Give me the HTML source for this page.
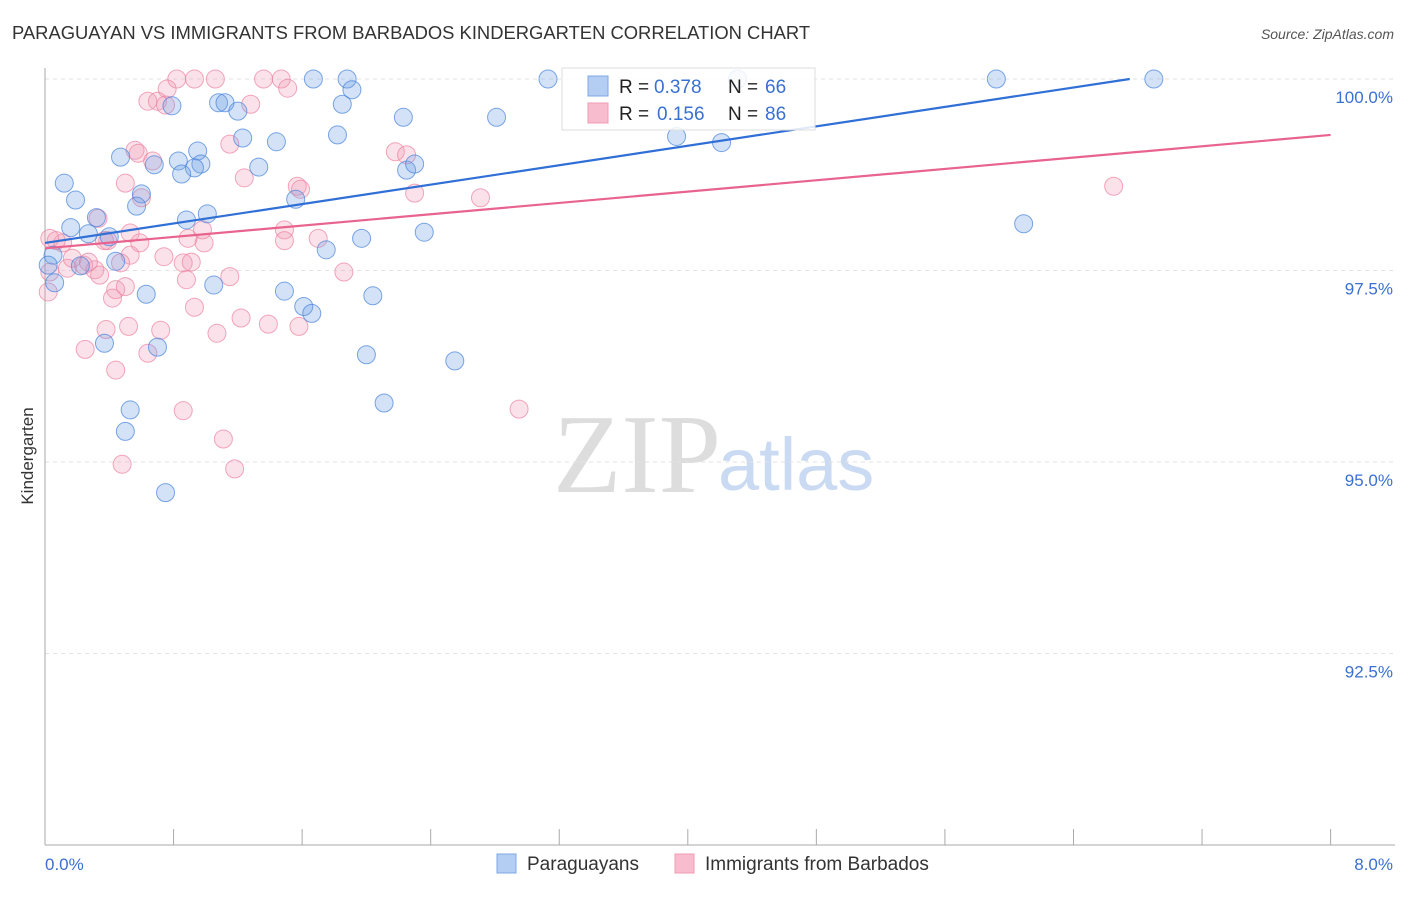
<!DOCTYPE html>
<html><head><meta charset="utf-8"><style>
body{margin:0;background:#fff;font-family:"Liberation Sans",sans-serif;}
</style></head><body>
<svg id="c" width="1406" height="892" xmlns="http://www.w3.org/2000/svg">
<text x="12" y="39" font-size="18.4" fill="#333">PARAGUAYAN VS IMMIGRANTS FROM BARBADOS KINDERGARTEN CORRELATION CHART</text>
<text x="1394" y="39" font-size="14" fill="#555" font-style="italic" text-anchor="end">Source: ZipAtlas.com</text>
<text x="553" y="492" font-size="112" fill="#ddd" font-family="Liberation Serif,serif">ZIP</text>
<text x="718" y="490" font-size="74" fill="#c9daf2">atlas</text>
<text transform="translate(33,456) rotate(-90)" font-size="17" fill="#333" text-anchor="middle">Kindergarten</text>
<g id="grid"></g><g id="pts"></g><g id="lines"></g>
<g>
<rect x="562" y="68" width="253" height="62" fill="#fff" fill-opacity="0.85" stroke="#ddd"/>
<rect x="588" y="76" width="20" height="20" fill="#b4cdf3" stroke="#7fa7e6"/>
<rect x="588" y="103" width="20" height="20" fill="#f7bccd" stroke="#ef9bb4"/>
<text x="619" y="93" font-size="19" fill="#222">R =</text>
<text x="654" y="93" font-size="19" fill="#3a70d0">0.378</text>
<text x="728" y="93" font-size="19" fill="#222">N =</text>
<text x="765" y="93" font-size="19" fill="#3a70d0">66</text>
<text x="619" y="120" font-size="19" fill="#222">R =</text>
<text x="657" y="120" font-size="19" fill="#3a70d0">0.156</text>
<text x="728" y="120" font-size="19" fill="#222">N =</text>
<text x="765" y="120" font-size="19" fill="#3a70d0">86</text>
</g>
<g>
<rect x="497" y="854" width="19" height="19" fill="#b4cdf3" stroke="#7fa7e6"/>
<text x="527" y="870" font-size="19" fill="#333">Paraguayans</text>
<rect x="675" y="854" width="19" height="19" fill="#f7bccd" stroke="#ef9bb4"/>
<text x="705" y="870" font-size="19" fill="#333">Immigrants from Barbados</text>
</g>
</svg>
<script>
const blueX=[1.67,1.88,3.13,5.92,6.90,4.31,1.91,1.85,0.79,1.08,1.12,1.20,2.23,2.81,1.23,1.44,1.82,0.95,0.47,0.68,0.83,0.97,0.93,0.85,1.33,2.25,2.30,0.12,0.60,0.19,0.57,1.56,1.01,0.32,0.16,0.88,6.09,0.27,0.40,1.97,2.36,1.75,0.44,0.22,0.06,0.63,1.05,1.49,1.61,1.66,2.04,0.37,0.70,2.00,2.55,0.53,2.11,0.50,0.75,3.93,4.21,0.05,0.02];
const blueY=[100,100,100,100,100,100,99.86,99.67,99.65,99.69,99.69,99.58,99.50,99.50,99.23,99.18,99.27,99.06,98.98,98.88,98.93,98.89,98.84,98.76,98.85,98.81,98.89,98.64,98.50,98.42,98.34,98.43,98.24,98.19,98.06,98.16,98.11,97.98,97.94,97.92,98.00,97.77,97.62,97.56,97.34,97.19,97.31,97.23,97.03,96.94,97.17,96.55,96.50,96.40,96.32,95.68,95.77,95.40,94.60,99.25,99.17,97.70,97.57];
const pinkX=[0.82,0.93,1.06,1.36,1.47,0.76,1.51,0.64,0.70,0.75,1.28,0.56,0.58,0.67,1.15,1.24,2.18,2.25,0.50,1.57,1.59,0.60,2.30,2.71,6.65,0.53,0.11,0.03,0.07,0.33,0.39,0.59,0.99,0.89,1.49,1.49,1.70,0.98,0.74,0.53,0.47,0.86,0.91,0.14,0.24,0.31,0.34,1.86,1.15,0.88,0.44,0.50,0.42,0.93,1.22,1.58,1.39,0.38,0.52,0.72,1.07,0.25,0.64,0.44,0.86,2.95,1.11,0.48,1.18,0.03,0.02,0.17,0.27,0.37];
const pinkY=[100,100,100,100,100,99.87,99.88,99.71,99.71,99.66,99.67,99.07,99.03,98.93,99.15,98.71,99.05,99.01,98.64,98.60,98.56,98.45,98.51,98.45,98.60,97.99,97.86,97.92,97.89,98.18,97.89,97.86,97.86,97.92,98.03,97.89,97.92,98.03,97.68,97.70,97.60,97.60,97.61,97.53,97.57,97.51,97.44,97.48,97.42,97.38,97.25,97.29,97.14,97.02,96.88,96.77,96.80,96.73,96.77,96.72,96.68,96.47,96.42,96.20,95.67,95.69,95.30,94.97,94.91,97.48,97.22,97.66,97.61,97.89];
const xTicks=[0,0.8,1.6,2.4,3.2,4.0,4.8,5.6,6.4,7.2,8.0];
const yTicks=[100,97.5,95,92.5];
const yTickLabels=["100.0%","97.5%","95.0%","92.5%"];
const blueLine=[97.86,100.0,6.75];
const pinkLine=[97.79,99.27,8.0];
const X=v=>45+v*160.7, Y=v=>79+(100-v)*76.6;
const NS="http://www.w3.org/2000/svg";
function mk(t,a,p){const e=document.createElementNS(NS,t);for(const k in a)e.setAttribute(k,a[k]);p.appendChild(e);return e;}
const g=document.getElementById('grid');
yTicks.forEach((v,i)=>{
 const l=mk('line',{x1:45,x2:1395,y1:Y(v),y2:Y(v),stroke:'#e2e2e2','stroke-dasharray':'4,4'},g);
 
 
 const t=mk('text',{x:1393,y:Y(v)+24,'font-size':17,fill:'#3a70d0','text-anchor':'end'},g);
 t.textContent=yTickLabels[i];
 
 
});
const ax=mk('line',{x1:45,x2:45,y1:68,y2:845,stroke:'#aaa'},g);


const bx=mk('line',{x1:45,x2:1395,y1:845,y2:845,stroke:'#aaa'},g);


xTicks.forEach(v=>{
 const l=mk('line',{x1:X(v),x2:X(v),y1:829,y2:845,stroke:'#aaa'},g);
 
 
});
const xl0=mk('text',{x:45,y:870,'font-size':17,fill:'#3a70d0'},g);xl0.textContent=xTicks[0].toFixed(1)+'%';


const xl1=mk('text',{x:1393,y:870,'font-size':17,fill:'#3a70d0','text-anchor':'end'},g);xl1.textContent=xTicks[xTicks.length-1].toFixed(1)+'%';


const p=document.getElementById('pts');
pinkX.forEach((x,i)=>{
 const c=mk('circle',{cx:X(x),cy:Y(pinkY[i]),r:9,fill:'rgba(242,150,178,0.28)',stroke:'rgba(236,130,160,0.7)','stroke-width':1},p);
 
 
});
blueX.forEach((x,i)=>{
 const c=mk('circle',{cx:X(x),cy:Y(blueY[i]),r:9,fill:'rgba(110,160,230,0.3)',stroke:'rgba(70,130,220,0.7)','stroke-width':1},p);
 
 
});
const L=document.getElementById('lines');
const bl=mk('line',{x1:X(0),y1:Y(blueLine[0]),x2:X(blueLine[2]),y2:Y(blueLine[1]),stroke:'#2f6fd6','stroke-width':2.2},L);


const pl=mk('line',{x1:X(0),y1:Y(pinkLine[0]),x2:X(pinkLine[2]),y2:Y(pinkLine[1]),stroke:'#e8638e','stroke-width':2.2},L);


</script>
</body></html>
